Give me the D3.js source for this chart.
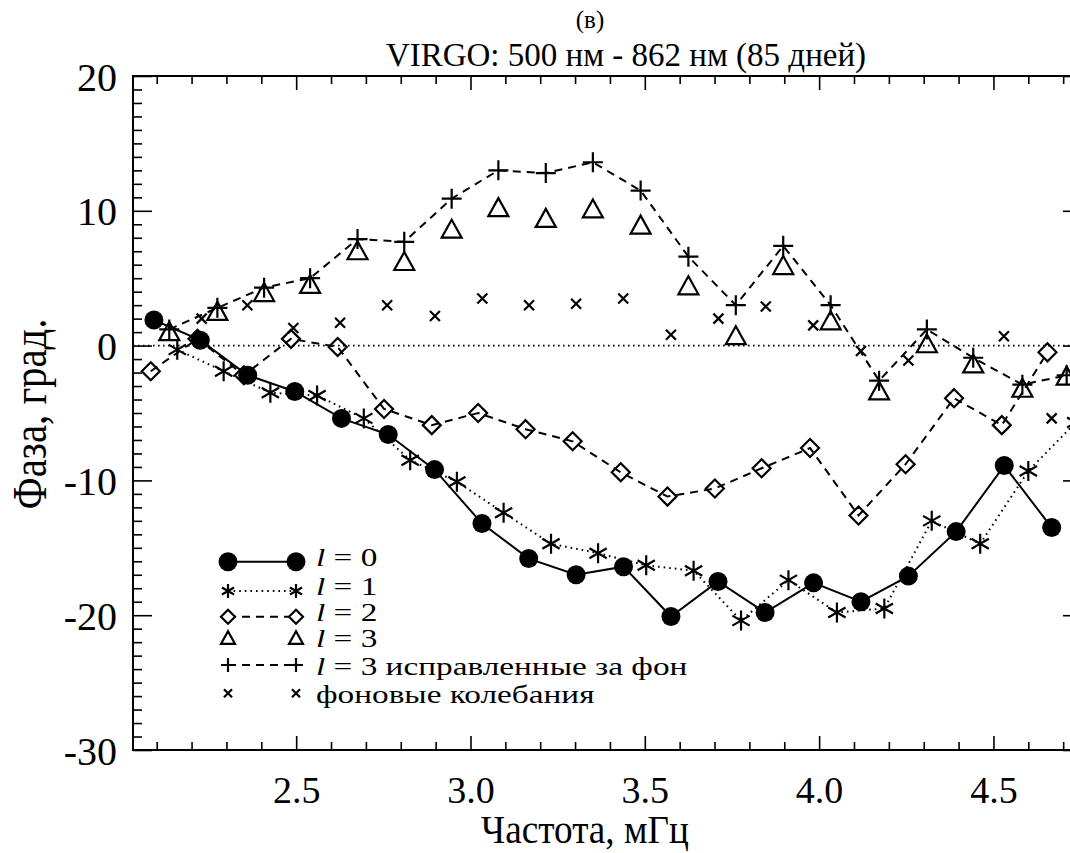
<!DOCTYPE html>
<html>
<head>
<meta charset="utf-8">
<script src="https://cdn.jsdelivr.net/npm/d3@7"></script>
<style>
    body { margin: 0; background: #fff; }
    text { font-family: "Liberation Serif", "Times New Roman", serif; fill: #000; }
</style>
</head>
<body>
<div id="chart"></div>
<script>
// l = 0 (circles, solid)
var l0Freq = [2.092, 2.225, 2.361, 2.496, 2.630, 2.764, 2.897, 3.033, 3.167, 3.303,
    3.439, 3.575, 3.710, 3.845, 3.984, 4.120, 4.256, 4.393, 4.531, 4.667];
var l0Phase = [1.9, 0.4, -2.2, -3.4, -5.4, -6.6, -9.2, -13.2, -15.8, -17.0,
    -16.4, -20.1, -17.5, -19.8, -17.6, -19.0, -17.1, -13.8, -8.9, -13.5];

// l = 1 (asterisks, dotted)
var l1Freq = [2.159, 2.292, 2.426, 2.560, 2.694, 2.827, 2.961, 3.095, 3.231, 3.366,
    3.504, 3.640, 3.776, 3.912, 4.051, 4.187, 4.323, 4.462, 4.600, 4.736];
var l1Phase = [-0.3, -1.9, -3.5, -3.7, -5.4, -8.5, -10.1, -12.4, -14.7, -15.4,
    -16.3, -16.7, -20.4, -17.4, -19.8, -19.5, -13.0, -14.7, -9.3, -5.7];

// l = 2 (diamonds, dashed)
var l2Freq = [2.083, 2.217, 2.350, 2.485, 2.619, 2.752, 2.889, 3.022, 3.158, 3.293,
    3.431, 3.565, 3.701, 3.835, 3.974, 4.113, 4.248, 4.387, 4.524, 4.655];
var l2Phase = [-1.9, 0.5, -2.2, 0.5, -0.1, -4.7, -5.9, -5.0, -6.2, -7.1,
    -9.4, -11.2, -10.6, -9.1, -7.6, -12.6, -8.8, -3.9, -5.9, -0.5];

// l = 3 (triangles, raw) and l = 3 corrected (plus, dashed)
var l3Freq = [2.136, 2.274, 2.408, 2.540, 2.676, 2.810, 2.946, 3.080, 3.216, 3.351,
    3.488, 3.625, 3.761, 3.897, 4.033, 4.172, 4.309, 4.442, 4.583, 4.710];
var l3Phase = [1.0, 2.5, 3.9, 4.5, 7.0, 6.2, 8.6, 10.2, 9.4, 10.1,
    8.9, 4.4, 0.7, 5.9, 1.8, -3.4, 0.1, -1.4, -3.2, -2.3];
var l3CorrPhase = [1.2, 2.8, 4.3, 5.0, 7.9, 7.7, 10.9, 13.0, 12.8, 13.6,
    11.5, 6.6, 3.0, 7.4, 3.0, -2.6, 1.2, -0.9, -2.9, -2.2];

// background oscillations (x marks)
var bgFreq = [2.229, 2.360, 2.492, 2.626, 2.761, 2.898, 3.034, 3.168, 3.303, 3.438,
    3.575, 3.711, 3.847, 3.983, 4.120, 4.256, 4.530, 4.667];
var bgPhase = [2.0, 3.0, 1.3, 1.7, 3.0, 2.2, 3.5, 3.0, 3.1, 3.5,
    0.8, 2.0, 2.9, 1.5, -0.4, -1.1, 0.7, -5.4];

var xMajorTicks = [2.5, 3.0, 3.5, 4.0, 4.5];
var yMajorTicks = [-30, -20, -10, 0, 10, 20];

var legendLabels = ['0', '1', '2', '3', '3 исправленные за фон', 'фоновые колебания'];

var titleTop = '(в)';
var titleMain = 'VIRGO: 500 нм - 862 нм (85 дней)';
var xTitle = 'Частота, мГц';
var yTitle = 'Фаза, град.';

var width = 1070;
var height = 853;
var plotLeft = 133, plotRight = 1082, plotTop = 76, plotBottom = 750;

var xScale = d3.scaleLinear()
    .domain([2.032, 4.754])
    .range([plotLeft, plotRight]);

var yScale = d3.scaleLinear()
    .domain([-30, 20])
    .range([plotBottom, plotTop]);

var svg = d3.select('#chart')
    .append('svg')
    .attr('width', width)
    .attr('height', height);

// marker shapes
var plusPath = function (s) {
    return 'M' + (-s) + ',0H' + s + 'M0,' + (-s) + 'V' + s;
};
var xPath = function (s) {
    return 'M' + (-s) + ',' + (-s) + 'L' + s + ',' + s + 'M' + (-s) + ',' + s + 'L' + s + ',' + (-s);
};
var starPath = function (s) {
    var a = s * 0.866, b = s * 0.5;
    return 'M0,' + (-s) + 'V' + s +
        'M' + (-a) + ',' + (-b) + 'L' + a + ',' + b +
        'M' + (-a) + ',' + b + 'L' + a + ',' + (-b);
};
var diamondPath = function (s) {
    return 'M0,' + (-s) + 'L' + s + ',0L0,' + s + 'L' + (-s) + ',0Z';
};
var trianglePath = function (s) {
    return 'M0,' + (-s) + 'L' + s + ',' + (s * 0.8) + 'L' + (-s) + ',' + (s * 0.8) + 'Z';
};

var zip = function (xs, ys) {
    return xs.map(function (d, i) {
        return {f: d, v: ys[i]};
    });
};

// axes: minor + major ticks, pointing inward on all four sides
var xMinor = d3.range(21, 48).map(function (d) { return d / 10; })
    .filter(function (d) { return xMajorTicks.indexOf(d) < 0; });
var yMinor = d3.range(-30, 21).filter(function (d) { return yMajorTicks.indexOf(d) < 0; });

var addAxis = function (axis, tx, ty) {
    var g = svg.append('g')
        .attr('class', 'axis')
        .attr('transform', 'translate(' + tx + ',' + ty + ')')
        .call(axis);
    g.select('.domain').remove();
    g.selectAll('.tick line').attr('stroke', '#000').attr('stroke-width', 1.6);
    return g;
};

addAxis(d3.axisBottom(xScale).tickValues(xMinor).tickSize(-8).tickFormat(''), 0, plotBottom);
addAxis(d3.axisTop(xScale).tickValues(xMinor).tickSize(-8).tickFormat(''), 0, plotTop);
addAxis(d3.axisTop(xScale).tickValues(xMajorTicks).tickSize(-14).tickFormat(''), 0, plotTop);
var xAx = addAxis(d3.axisBottom(xScale).tickValues(xMajorTicks).tickSize(-14)
    .tickFormat(d3.format('.1f')), 0, plotBottom);
xAx.selectAll('text')
    .attr('font-size', 38)
    .attr('font-family', '"Liberation Serif", serif')
    .attr('y', 53)
    .attr('dy', 0);

addAxis(d3.axisLeft(yScale).tickValues(yMinor).tickSize(-9).tickFormat(''), plotLeft, 0);
addAxis(d3.axisRight(yScale).tickValues(yMinor).tickSize(-9).tickFormat(''), plotRight, 0);
addAxis(d3.axisRight(yScale).tickValues(yMajorTicks).tickSize(-19).tickFormat(''), plotRight, 0);
var yAx = addAxis(d3.axisLeft(yScale).tickValues(yMajorTicks).tickSize(-19).tickPadding(16)
    .tickFormat(function (d) { return String(d); }), plotLeft, 0);
yAx.selectAll('text')
    .attr('font-size', 40)
    .attr('font-family', '"Liberation Serif", serif')
    .attr('dy', '0.35em');

// frame
svg.append('rect')
    .attr('x', plotLeft)
    .attr('y', plotTop)
    .attr('width', plotRight - plotLeft)
    .attr('height', plotBottom - plotTop)
    .attr('fill', 'none')
    .attr('stroke', '#000')
    .attr('stroke-width', 2);

// zero line
svg.append('line')
    .attr('x1', plotLeft)
    .attr('x2', plotRight)
    .attr('y1', yScale(0))
    .attr('y2', yScale(0))
    .attr('stroke', '#000')
    .attr('stroke-width', 1.6)
    .attr('stroke-dasharray', '1.6 3.4');

var line = d3.line()
    .x(function (d) { return xScale(d.f); })
    .y(function (d) { return yScale(d.v); });

var addLine = function (data, dash) {
    svg.append('path')
        .datum(data)
        .attr('d', line)
        .attr('fill', 'none')
        .attr('stroke', '#000')
        .attr('stroke-width', 2)
        .attr('stroke-dasharray', dash);
};

var addMarks = function (data, pathFn, size, filled) {
    svg.append('g')
        .selectAll('path')
        .data(data)
        .enter()
        .append('path')
        .attr('transform', function (d) {
            return 'translate(' + xScale(d.f) + ',' + yScale(d.v) + ')';
        })
        .attr('d', pathFn(size))
        .attr('fill', filled ? '#000' : 'none')
        .attr('stroke', '#000')
        .attr('stroke-width', 2.2);
};

var l0 = zip(l0Freq, l0Phase);
var l1 = zip(l1Freq, l1Phase);
var l2 = zip(l2Freq, l2Phase);
var l3 = zip(l3Freq, l3Phase);
var l3c = zip(l3Freq, l3CorrPhase);
var bg = zip(bgFreq, bgPhase);

addLine(l3c, '8 6');
addLine(l2, '8 6');
addLine(l1, '1.6 4');
addLine(l0, null);

addMarks(bg, xPath, 5, false);
addMarks(l3, trianglePath, 10, false);
addMarks(l3c, plusPath, 10, false);
addMarks(l2, diamondPath, 9, false);
addMarks(l1, starPath, 10, false);

svg.append('g')
    .selectAll('circle')
    .data(l0)
    .enter()
    .append('circle')
    .attr('cx', function (d) { return xScale(d.f); })
    .attr('cy', function (d) { return yScale(d.v); })
    .attr('r', 9.5)
    .attr('fill', '#000');

// legend
var legendRows = [561.7, 591, 616.7, 638.3, 665, 693.3];
var legendBase = [566, 595, 621, 647, 675, 703];
var legendDash = [null, '1.6 4', '8 6', 'none', '8 6', 'none'];
var legendShapes = [null, starPath, diamondPath, trianglePath, plusPath, xPath];
var legendSizes = [9.5, 7, 7, 7, 7, 4];
var lx1 = 228, lx2 = 296;

legendLabels.forEach(function (label, i) {
    var y = legendRows[i];
    if (legendDash[i] !== 'none') {
        svg.append('line')
            .attr('x1', lx1).attr('x2', lx2)
            .attr('y1', y).attr('y2', y)
            .attr('stroke', '#000')
            .attr('stroke-width', 2)
            .attr('stroke-dasharray', legendDash[i]);
    }
    [lx1, lx2].forEach(function (x) {
        if (i === 0) {
            svg.append('circle')
                .attr('cx', x).attr('cy', y).attr('r', legendSizes[i])
                .attr('fill', '#000');
        } else {
            svg.append('path')
                .attr('transform', 'translate(' + x + ',' + y + ')')
                .attr('d', legendShapes[i](legendSizes[i]))
                .attr('fill', '#fff')
                .attr('stroke', '#000')
                .attr('stroke-width', 2.2);
        }
    });
    var t = svg.append('text')
        .attr('transform', 'translate(316,' + legendBase[i] + ') scale(1.28,1)')
        .attr('font-size', 26);
    if (i < 5) {
        t.append('tspan').attr('font-style', 'italic').text('l');
        t.append('tspan').text(' = ' + label);
    } else {
        t.text(label);
    }
});

// titles
svg.append('text')
    .attr('x', 590)
    .attr('y', 28)
    .attr('font-size', 25)
    .style('text-anchor', 'middle')
    .text(titleTop);

svg.append('text')
    .attr('x', 626)
    .attr('y', 66)
    .attr('font-size', 33)
    .style('text-anchor', 'middle')
    .text(titleMain);

svg.append('text')
    .attr('transform', 'translate(585,843) scale(0.93,1)')
    .attr('font-size', 40)
    .style('text-anchor', 'middle')
    .text(xTitle);

svg.append('text')
    .attr('transform', 'translate(46,414) rotate(-90) scale(0.85,1)')
    .attr('font-size', 48)
    .style('text-anchor', 'middle')
    .text(yTitle);
</script>
</body>
</html>
